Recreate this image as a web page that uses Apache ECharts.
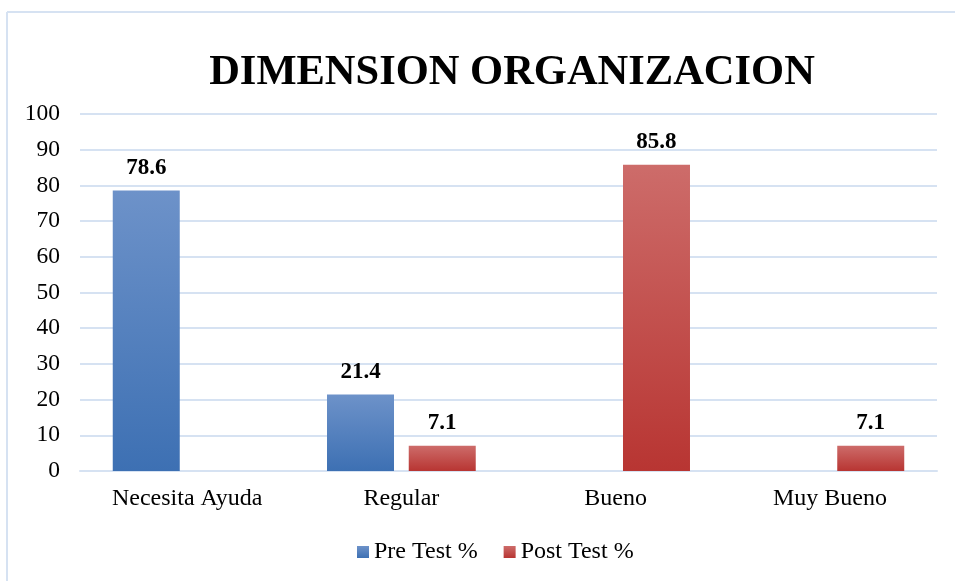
<!DOCTYPE html>
<html>
<head>
<meta charset="utf-8">
<script src="https://cdn.jsdelivr.net/npm/echarts@6/dist/echarts.min.js"></script>
<style>
  html, body { margin: 0; padding: 0; background: #fff; }
  #box { width: 955px; height: 581px; }
</style>
</head>
<body>
<div id="box"></div>
<script>
// datos del grafico
var categories = ['Necesita Ayuda', 'Regular', 'Bueno', 'Muy Bueno'];
var preTest = [78.6, 21.4, null, null];
var postTest = [null, 7.1, 85.8, 7.1];
var seriesNames = ['Pre Test %', 'Post Test %'];

var serif = '"Liberation Serif", "Times New Roman", serif';

function grad(top, bottom) {
  return new echarts.graphic.LinearGradient(0, 0, 0, 1, [
    { offset: 0, color: top },
    { offset: 1, color: bottom }
  ]);
}

var myChart = echarts.init(document.getElementById('box'));
var option = {
  backgroundColor: '#ffffff',
  animation: false,
  title: {
    text: 'DIMENSION ORGANIZACION',
    left: 507,
    textAlign: 'center',
    top: 47,
    textStyle: { fontFamily: serif, fontSize: 42.5, fontWeight: 'bold', color: '#000' }
  },
  graphic: [
    { type: 'line', shape: { x1: 7, y1: 12, x2: 955, y2: 12 }, style: { stroke: '#d6e2f2', lineWidth: 2 } },
    { type: 'line', shape: { x1: 7, y1: 12, x2: 7, y2: 581 }, style: { stroke: '#d6e2f2', lineWidth: 2 } }
  ],
  legend: {
    data: seriesNames,
    bottom: 12,
    left: 352,
    itemWidth: 12,
    itemHeight: 12,
    itemGap: 26,
    icon: 'rect',
    textStyle: { fontFamily: serif, fontSize: 24, color: '#000' }
  },
  grid: { left: 80, right: 18, top: 114, bottom: 110 },
  xAxis: {
    type: 'category',
    data: categories,
    axisLine: { show: true, lineStyle: { color: '#d6e2f2', width: 2 } },
    axisTick: { show: false },
    axisLabel: { fontFamily: serif, fontSize: 24, color: '#000', margin: 16 }
  },
  yAxis: {
    type: 'value',
    min: 0,
    max: 100,
    interval: 10,
    axisLine: { show: false },
    axisTick: { show: false },
    axisLabel: { fontFamily: serif, fontSize: 23.5, color: '#000', margin: 20 },
    splitLine: { lineStyle: { color: '#d6e2f2', width: 2 } }
  },
  series: [
    {
      name: seriesNames[0],
      type: 'bar',
      data: preTest,
      barWidth: 67,
      barGap: '22%',
      itemStyle: { color: grad('#6d92c9', '#3d70b3') },
      label: { show: true, position: 'top', distance: 11, fontFamily: serif, fontSize: 23, fontWeight: 'bold', color: '#000' }
    },
    {
      name: seriesNames[1],
      type: 'bar',
      data: postTest,
      barWidth: 67,
      itemStyle: { color: grad('#cd6c6a', '#b83532') },
      label: { show: true, position: 'top', distance: 11, fontFamily: serif, fontSize: 23, fontWeight: 'bold', color: '#000' }
    }
  ]
};
myChart.setOption(option);
</script>
</body>
</html>
